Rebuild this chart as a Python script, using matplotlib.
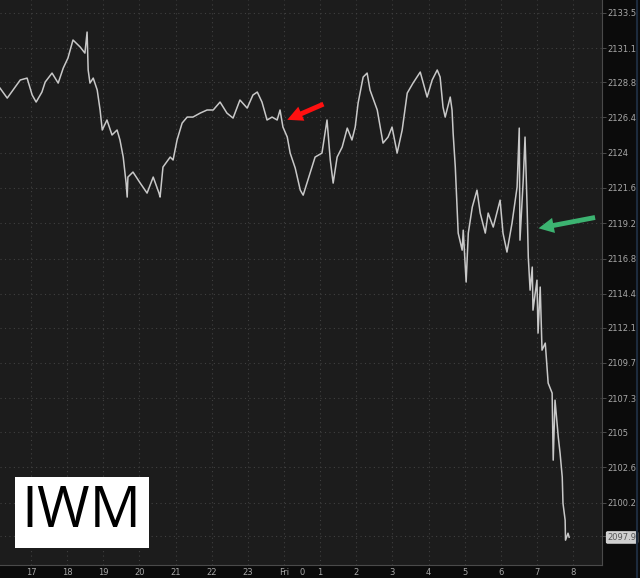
import matplotlib
matplotlib.use("Agg")
import matplotlib.pyplot as plt

# time in hours (16 = 16:00, 24 = midnight/Fri, 32 = 08:00)
hours = [16.14, 16.34, 16.50, 16.70, 16.89, 17.03, 17.14, 17.30, 17.39, 17.58,
         17.75, 17.89, 18.02, 18.16, 18.36, 18.49, 18.55, 18.58, 18.63, 18.72,
         18.83, 18.91, 18.97, 19.10, 19.24, 19.38, 19.46, 19.55, 19.63, 19.66,
         19.68, 19.82, 20.02, 20.21, 20.38, 20.54, 20.57, 20.65, 20.85, 20.93,
         21.04, 21.18, 21.32, 21.48, 21.68, 21.87, 22.04, 22.23, 22.42, 22.59,
         22.78, 22.98, 23.14, 23.26, 23.39, 23.53, 23.67, 23.81, 23.89, 23.97,
         24.09, 24.17, 24.31, 24.45, 24.53, 24.72, 24.86, 25.05, 25.19, 25.28,
         25.36, 25.47, 25.61, 25.75, 25.88, 25.97, 26.05, 26.19, 26.30, 26.38,
         26.58, 26.74, 26.88, 26.99, 27.13, 27.27, 27.41, 27.57, 27.77, 27.96,
         28.10, 28.24, 28.32, 28.40, 28.46, 28.60, 28.65, 28.68, 28.74, 28.82,
         28.93, 28.96, 29.04, 29.10, 29.21, 29.34, 29.43, 29.57, 29.65, 29.79,
         29.98, 30.06, 30.17, 30.31, 30.45, 30.51, 30.53, 30.62, 30.67, 30.73,
         30.76, 30.81, 30.87, 30.89, 31.00, 31.03, 31.09, 31.14, 31.23, 31.31,
         31.42, 31.45, 31.50, 31.59, 31.64, 31.70, 31.72, 31.78, 31.79, 31.86,
         31.89]

price = [2128.39, 2127.71, 2128.26, 2128.94, 2129.07, 2127.92, 2127.44, 2128.12, 2128.80, 2129.41,
         2128.73, 2129.75, 2130.43, 2131.66, 2131.18, 2130.77, 2132.20, 2129.62, 2128.73, 2129.07,
         2128.26, 2126.90, 2125.54, 2126.22, 2125.20, 2125.54, 2124.86, 2123.70, 2121.93, 2120.98,
         2122.34, 2122.68, 2121.93, 2121.25, 2122.34, 2121.25, 2120.98, 2123.02, 2123.70, 2123.50,
         2124.86, 2126.01, 2126.42, 2126.42, 2126.69, 2126.90, 2126.90, 2127.44, 2126.69, 2126.35,
         2127.58, 2127.03, 2127.92, 2128.12, 2127.44, 2126.22, 2126.42, 2126.22, 2126.90, 2125.74,
         2125.06, 2123.97, 2122.95, 2121.45, 2121.11, 2122.61, 2123.70, 2123.97, 2126.22, 2123.50,
         2121.93, 2123.70, 2124.38, 2125.67, 2124.86, 2125.74, 2127.37, 2129.14, 2129.41, 2128.26,
         2126.90, 2124.65, 2125.06, 2125.74, 2123.97, 2125.54, 2128.05, 2128.73, 2129.48, 2127.78,
         2128.94, 2129.62, 2129.14, 2127.10, 2126.42, 2127.78, 2126.90, 2125.33, 2123.02, 2118.53,
         2117.37, 2118.73, 2115.20, 2118.53, 2120.30, 2121.45, 2119.89, 2118.53, 2119.89, 2118.94,
         2120.77, 2118.53, 2117.24, 2119.21, 2121.66, 2125.67, 2118.05, 2122.14, 2125.06, 2120.09,
         2116.90, 2114.65, 2116.22, 2113.29, 2115.33, 2111.73, 2114.86, 2110.57, 2111.05, 2108.33,
         2107.65, 2103.09, 2107.17, 2104.65, 2103.56, 2101.93, 2100.16, 2099.01, 2097.65, 2098.12,
         2097.85]

x_ticks = [17, 18, 19, 20, 21, 22, 23, 24, 25, 26, 27, 28, 29, 30, 31, 32]
x_labels = ["17", "18", "19", "20", "21", "22", "23", "Fri", "1", "2", "3", "4", "5", "6", "7", "8"]

y_labels = ["2097.9", "2100.2", "2102.6", "2105", "2107.3", "2109.7", "2112.1", "2114.4",
            "2116.8", "2119.2", "2121.6", "2124", "2126.4", "2128.8", "2131.1", "2133.5"]
y_ticks = [float(s) for s in y_labels]

fig = plt.figure(figsize=(6.4, 5.78), dpi=100, facecolor="#0b0b0b")
ax = fig.add_axes([0, 13 / 578, 602 / 640, 565 / 578])
ax.set_facecolor("#1c1c1c")

ax.plot(hours, price, color="#c8c8c8", lw=1.1)

ax.set_xlim(16.14, 32.80)
ax.set_ylim(2095.96, 2134.38)

ax.set_xticks(x_ticks)
ax.set_xticklabels(x_labels)
ax.set_yticks(y_ticks)
ax.set_yticklabels(y_labels)
ax.yaxis.tick_right()

ax.tick_params(axis="x", length=0, pad=2, labelsize=6, labelcolor="#a8a8a8")
ax.tick_params(axis="y", length=3, width=0.6, color="#555555", pad=1,
               labelsize=6, labelcolor="#a8a8a8")

ax.grid(True, color="#404040", linestyle=(0, (1, 3)), linewidth=0.8)

for s in ["top", "left"]:
    ax.spines[s].set_visible(False)
for s in ["right", "bottom"]:
    ax.spines[s].set_color("#4a4a4a")
    ax.spines[s].set_linewidth(0.8)

# extra labels on the time axis (the "16" is cut by the left edge, as in the source)
ax.text(16.0, -0.005, "16", transform=ax.get_xaxis_transform(), ha="center", va="top",
        fontsize=6, color="#a8a8a8", clip_on=False)
ax.text(24.5, -0.005, "0", transform=ax.get_xaxis_transform(), ha="center", va="top",
        fontsize=6, color="#a8a8a8", clip_on=False)

# last price tag
last = ax.get_yticklabels()[0]
last.set_color("#555555")
last.set_bbox(dict(boxstyle="round,pad=0.15", facecolor="#cfcfcf", edgecolor="#e8e8e8", lw=0.6))

# arrows
ax.annotate("", xy=(0.473, 0.786), xytext=(0.5415, 0.8177), xycoords="axes fraction",
            arrowprops=dict(arrowstyle="simple,head_width=1.1,head_length=1.1,tail_width=0.35",
                            color="#ff1010", lw=0))
ax.annotate("", xy=(0.890, 0.595), xytext=(0.993, 0.616), xycoords="axes fraction",
            arrowprops=dict(arrowstyle="simple,head_width=1.1,head_length=1.1,tail_width=0.35",
                            color="#3cb371", lw=0))

# ticker box
ax.text(0.136, 0.093, "IWM", transform=ax.transAxes, ha="center", va="center",
        fontsize=41, family="Open Sans", color="black",
        bbox=dict(boxstyle="square,pad=0.12", facecolor="white", edgecolor="none"))

fig.add_artist(plt.Line2D([637 / 640, 637 / 640], [0, 1], color="#1d2b3d", lw=1.5))

plt.savefig("out.png", dpi=100, facecolor=fig.get_facecolor())
